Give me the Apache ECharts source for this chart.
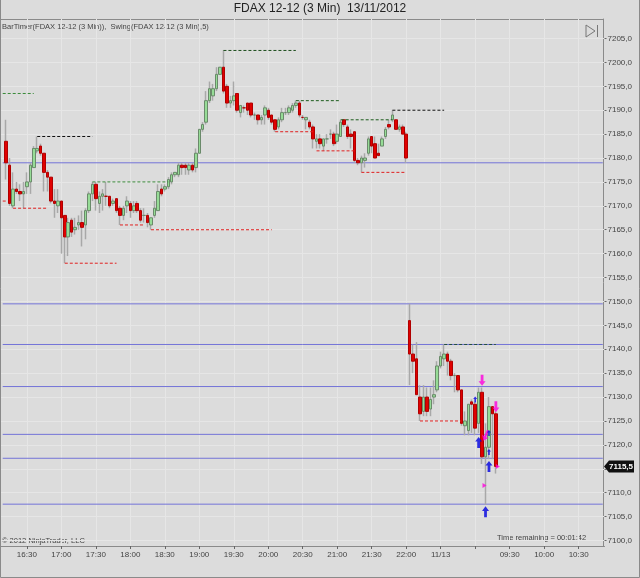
<!DOCTYPE html>
<html lang="en">
<head>
<meta charset="UTF-8">
<title>FDAX 12-12 (3 Min)</title>
<style>
html,body{margin:0;padding:0;background:#dcdcdc;}
#main{width:640px;height:578px;}
</style>
<script src="https://cdn.jsdelivr.net/npm/echarts@6/dist/echarts.min.js"></script>
</head>
<body>
<div id="main"></div>
<script>
// bars run from slot 1 to slot 143, slot 0 and the slots after 143 stay empty
var slotCount = 175;
var opens = [
7183.5,7178.5,7170,7173.5,7173,7172.5,7174,7175,7178,7181.5,
7182.5,7181,7177,7176,7171,7170,7171,7168,7163.5,7167,
7165,7166,7166.5,7166,7169,7172.5,7174.5,7170.5,7172,7172,
7172,7170.5,7171.5,7169.5,7168,7170,7170.5,7169,7170.5,7169,
7168,7168,7166,7168,7169,7173.5,7173.5,7174,7175,7176.5,
7176.5,7178.5,7178.5,7177.5,7178.5,7178,7181,7186,7187.5,7192,
7193,7194.5,7197.5,7199,7195,7191.5,7192,7193.5,7189.5,7190.5,
7191.5,7191.5,7189,7189,7188,7189,7190,7189,7188,7186.5,
7188,7189.5,7189.5,7190,7191,7191.5,7188.5,7188,7187.5,7186.5,
7183.5,7184,7182.5,7184,7185,7185,7183.5,7184.5,7188,7186.5,
7185,7185.5,7179.5,7179,7179.5,7181,7184.5,7183,7181,7182.5,
7184.5,7187,7188,7188,7186,7186.5,7185,7146,7139,7138,
7130,7127,7130,7127.5,7130,7131.5,7136.5,7138,7139,7137.5,
7134.5,7134.5,7131.5,7124,7123,7129,7128.5,7124.5,7131,7117.5,
7119.5,7128,7126.5
];
var closes = [
7179,7170.5,7173.5,7173,7172.5,7173,7175,7178.5,7182,7182,
7181,7177,7176,7171,7170.5,7171,7167.5,7163.5,7166.5,7164.5,
7165.5,7166.5,7165.5,7169,7172.5,7174.5,7171.5,7172,7172.5,7172,
7170,7171,7169,7168,7169.5,7171,7169,7170,7169,7167,
7168,7166.5,7167.5,7169.5,7173,7172.5,7174,7175.5,7176.5,7177,
7178.5,7178,7178,7178.5,7177.5,7181,7186,7187,7192,7194.5,
7194.5,7197.5,7199,7194,7191.5,7192,7193,7190,7191,7190.5,
7190,7189,7189,7188,7188.5,7190.5,7188.5,7187.5,7186,7188,
7189.5,7189.5,7190.5,7191,7191.5,7189,7188.5,7188.5,7186.5,7184,
7184,7183,7184,7184,7185,7183,7185,7187.5,7187,7184.5,
7184.5,7179.5,7179,7180,7180,7184,7182.5,7180,7180.5,7184,
7186,7186.5,7189,7186,7186.5,7185,7180,7139,7137.5,7130.5,
7126.5,7130,7127,7129.5,7130.5,7136.5,7138.5,7139,7137.5,7134.5,
7134.5,7131.5,7124.5,7125,7128.5,7128.5,7123.5,7131,7117.5,7119.5,
7128,7126.5,7115.5
];
var lows = [
7175.5,7170,7169.5,7172.5,7171,7169.5,7172.5,7172.5,7178,7181,
7180.5,7173,7173,7170.5,7167.5,7168.5,7160,7158,7159.5,7163.5,
7164,7165,7161.5,7163,7168.5,7171,7169,7168.5,7169,7170,
7169.5,7170,7168.5,7166,7167,7168.5,7167.5,7168.5,7168.5,7166.5,
7166.5,7165.5,7165,7167.5,7169,7172,7173,7173.5,7174.5,7176,
7176,7176.5,7176.5,7176.5,7177,7177,7181,7185.5,7187,7191.5,
7192,7194,7197.5,7193.5,7190.5,7190.5,7191,7189.5,7188.5,7189.5,
7189,7188.5,7188,7187,7187,7187,7188,7187,7185.5,7186,
7187.5,7189,7189,7189.5,7190.5,7188.5,7188,7186,7186,7182,
7182,7182,7181.5,7183,7184,7182.5,7183,7184.5,7186.5,7184,
7182,7179,7178.5,7177,7178,7180.5,7181,7180,7180.5,7182.5,
7184,7186,7187.5,7186,7185.5,7185,7179,7132.5,7135,7130.5,
7125,7126,7126,7126,7128.5,7131,7136,7136.5,7134.5,7133.5,
7131,7131,7124,7122,7122,7122.5,7122,7122.5,7116,7107.5,
7117,7117,7114
];
var highs = [
7188,7180,7177,7175,7174.5,7175,7177,7179,7182.5,7184.5,
7183,7181,7177.5,7176,7173.5,7173.5,7171,7168,7167.5,7167.5,
7167.5,7168,7169,7169.5,7173,7175,7175,7173,7173.5,7175,
7172,7171.5,7171.5,7170,7170,7172,7171,7171,7171,7169.5,
7169.5,7168.5,7167.5,7171,7174.5,7174.5,7174.5,7176,7177,7177,
7179,7179,7179,7179,7179,7182,7186,7187.5,7194,7196,
7195.5,7199,7199,7202.5,7195.5,7193,7196,7193.5,7191,7191,
7191.5,7191.5,7189.5,7189,7189,7191,7190.5,7189,7188,7188.5,
7190.5,7190.5,7191,7191.5,7192,7192,7189,7188.5,7188,7187,
7185,7185,7184,7185,7186,7185.5,7187,7188,7188,7187,
7186,7185.5,7180,7180.5,7181,7184.5,7184.5,7184.5,7183,7184.5,
7186.5,7188,7190,7188,7187,7187,7185.5,7149.5,7141,7141.5,
7132.5,7132.5,7132,7132,7133.5,7137.5,7139.5,7141,7139.5,7138,
7135,7134.5,7131.5,7127,7128.5,7129.5,7129,7132,7132,7124.5,
7130,7128,7127
];

var xTickSlots = [7,17,27,37,47,57,67,77,87,97,107,117,127,137,147,157,167];
var xTickLabels = ['16:30','17:00','17:30','18:00','18:30','19:00','19:30','20:00','20:30','21:00','21:30','22:00','11/13','','09:30','10:00','10:30'];
var yTicks = [7100,7105,7110,7115,7120,7125,7130,7135,7140,7145,7150,7155,7160,7165,7170,7175,7180,7185,7190,7195,7200,7205];
var blueLevels = [7179,7149.5,7141,7132.2,7122.2,7117.2,7107.6];
var lastPrice = 7115.5;

// [from slot, to slot, price, colour]
var swingHighs = [
	[0,9,7193.5,'#3a8a3a'],
	[10,26,7184.5,'#111111'],
	[26,48,7175,'#3a8a3a'],
	[64,85,7202.5,'#1c4d1c'],
	[85,98,7192,'#1c5c1c'],
	[98,113,7188,'#1c5c1c'],
	[113,128,7190,'#111111'],
	[128,143,7141,'#24503c']
];
var swingLows = [
	[0,1,7171],
	[3,13,7169.5],
	[18,33,7158],
	[34,41,7166],
	[43,78,7165],
	[79,90,7185.5],
	[91,102,7181.5],
	[104,117,7177],
	[121,133,7125]
];

var downArrows = [[139,7133.5],[143,7128]];
var upArrows = [[138,7120.5],[141,7115.5],[140,7106]];
var slantArrows = [[140,7122]];
var smallBlue = [[137,7129.5],[141,7122.5],[141,7118.5]];
var magentaLeft = [[140,7111.5]];
var magentaRight = [[143,7115.5]];

var slots = [];
for(var s=0;s<slotCount;s++){
	slots.push(String(s));
}
// wicks and bodies are two layers, the wicks are grey whatever the bar colour is
var wicks = ['-'];
var bodies = ['-'];
for(var b=0;b<opens.length;b++){
	wicks.push([opens[b],closes[b],lows[b],highs[b]]);
	bodies.push([opens[b],closes[b],Math.min(opens[b],closes[b]),Math.max(opens[b],closes[b])]);
}

function tickLabel(slot){
	var k = xTickSlots.indexOf(Number(slot));
	return k<0 ? '' : xTickLabels[k];
}
function isTick(index){
	return xTickSlots.indexOf(index)>=0;
}

var series = [
	{
		type:'candlestick',
		data:wicks,
		barWidth:1,
		z:3,
		itemStyle:{color:'#a8a8a8',color0:'#a8a8a8',borderColor:'#a8a8a8',borderColor0:'#a8a8a8',borderWidth:1.5}
	},
	{
		type:'candlestick',
		data:bodies,
		barWidth:3,
		z:4,
		itemStyle:{color:'#96dc96',color0:'#e00000',borderColor:'#6a8a6a',borderColor0:'#b00000',borderWidth:1}
	},
	{
		// plot grid, kept in a markLine because the y range does not start on a tick
		type:'line',
		data:[],
		silent:true,
		markLine:{
			silent:true,symbol:'none',z:1,animation:false,
			label:{show:false},
			lineStyle:{color:'#e6e6e6',width:1,type:'solid'},
			data:yTicks.map(function(v){return {yAxis:v}}).concat(xTickSlots.map(function(v){return {xAxis:v}}))
		}
	}
];

blueLevels.forEach(function(v){
	series.push({type:'line',symbol:'none',silent:true,z:2,
		data:[[0,v],[slotCount-1,v]],
		lineStyle:{color:'#7474d8',width:1}});
});
swingHighs.forEach(function(h){
	series.push({type:'line',symbol:'none',silent:true,z:5,
		data:[[h[0],h[2]],[h[1],h[2]]],
		lineStyle:{color:h[3],width:1,type:[3,2]}});
});
swingLows.forEach(function(l){
	series.push({type:'line',symbol:'none',silent:true,z:5,
		data:[[l[0],l[2]],[l[1],l[2]]],
		lineStyle:{color:'#e02020',width:1,type:[3,2]}});
});

var upPath = 'path://M5 0L10 5L7 5L7 12L3 12L3 5L0 5Z';
var downPath = 'path://M3 0L7 0L7 7L10 7L5 12L0 7L3 7Z';
var slantPath = 'path://M7 0L10 1L6 8L9 9L2 12L0 5L3 7Z';
var rightTri = 'path://M0 0L10 5L0 10Z';
series.push({type:'scatter',data:upArrows,symbol:upPath,symbolSize:[7,11],itemStyle:{color:'#0000e0'},z:6,silent:true});
series.push({type:'scatter',data:downArrows,symbol:downPath,symbolSize:[7,11],itemStyle:{color:'#ff00dd'},z:6,silent:true});
series.push({type:'scatter',data:slantArrows,symbol:slantPath,symbolSize:[7,11],itemStyle:{color:'#ff00dd'},z:6,silent:true});
series.push({type:'scatter',data:smallBlue,symbol:upPath,symbolSize:[4,6],itemStyle:{color:'#0000e0'},z:6,silent:true});
series.push({type:'scatter',data:magentaLeft,symbol:rightTri,symbolSize:[4,5],symbolOffset:[-1,0],itemStyle:{color:'#ff00dd'},z:6,silent:true});
series.push({type:'scatter',data:magentaRight,symbol:rightTri,symbolSize:[4,5],symbolOffset:[2,0],itemStyle:{color:'#ff00dd'},z:6,silent:true});

var textColor = '#444444';
var fontName = '"Liberation Sans",Arial,sans-serif';
var chart = echarts.init(document.getElementById('main'));
chart.setOption({
	animation:false,
	backgroundColor:'#dcdcdc',
	textStyle:{fontFamily:fontName},
	title:{
		text:'FDAX 12-12 (3 Min)  13/11/2012',
		left:320,top:3,padding:0,textAlign:'center',
		textStyle:{fontSize:12,fontWeight:'normal',color:'#222222',fontFamily:fontName}
	},
	grid:{left:1,top:19,width:603.5,height:527,show:false,outerBoundsMode:'none'},
	xAxis:{
		type:'category',
		data:slots,
		axisLine:{show:true,lineStyle:{color:'#8a8a8a'}},
		axisTick:{show:true,alignWithLabel:true,length:3,interval:function(i){return isTick(i)},lineStyle:{color:'#666666'}},
		axisLabel:{show:true,margin:5,fontSize:8,color:textColor,interval:function(i){return isTick(i)},
			formatter:function(v){return tickLabel(v)}},
		splitLine:{show:false}
	},
	yAxis:{
		type:'value',
		position:'right',
		offset:-1,
		min:7098.85,
		max:7209.08,
		axisLine:{show:true,lineStyle:{color:'#8a8a8a'}},
		axisTick:{show:true,length:3,customValues:yTicks,lineStyle:{color:'#666666'}},
		axisLabel:{show:true,margin:4,fontSize:8,color:textColor,customValues:yTicks,
			formatter:function(v){return v.toFixed(1).replace('.',',')}},
		splitLine:{show:false}
	},
	series:series
});

// price tag sits on the axis at the last price, so the graphics go on after the scales exist
var tagY = chart.convertToPixel({yAxisIndex:0},lastPrice);
chart.setOption({
	graphic:[
		{type:'rect',silent:true,shape:{x:0.5,y:-5,width:639,height:582.5},style:{fill:'none',stroke:'#8a8a8a',lineWidth:1}},
		{type:'line',silent:true,shape:{x1:1,y1:19.5,x2:603.5,y2:19.5},style:{stroke:'#8a8a8a',lineWidth:1}},
		{type:'polyline',silent:true,shape:{points:[[586,25],[595,31],[586,37],[586,25]]},style:{fill:'none',stroke:'#777777',lineWidth:1}},
		{type:'line',silent:true,shape:{x1:597.5,y1:25,x2:597.5,y2:37},style:{stroke:'#777777',lineWidth:1}},
		{type:'text',silent:true,x:2,y:27,style:{text:'BarTimer(FDAX 12-12 (3 Min)),  Swing(FDAX 12-12 (3 Min),5)',fontSize:7.5,verticalAlign:'middle',fontFamily:fontName,fill:'#444444'}},
		{type:'text',silent:true,x:2,y:541,style:{text:'\u00a9 2012 NinjaTrader, LLC',fontSize:7.5,verticalAlign:'middle',fontFamily:fontName,fill:'#444444'}},
		{type:'text',silent:true,x:497,y:538,style:{text:'Time remaining = 00:01:42',fontSize:7.5,verticalAlign:'middle',fontFamily:fontName,fill:'#444444'}},
		{type:'polygon',silent:true,z:10,shape:{points:[[604,tagY],[609,tagY-6],[634,tagY-6],[634,tagY+6],[609,tagY+6]]},style:{fill:'#111111'}},
		{type:'text',silent:true,z:11,x:609,y:tagY,style:{text:lastPrice.toFixed(1).replace('.',','),fontSize:8,fontWeight:'bold',verticalAlign:'middle',fontFamily:fontName,fill:'#ffffff'}}
	]
});
</script>
</body>
</html>
